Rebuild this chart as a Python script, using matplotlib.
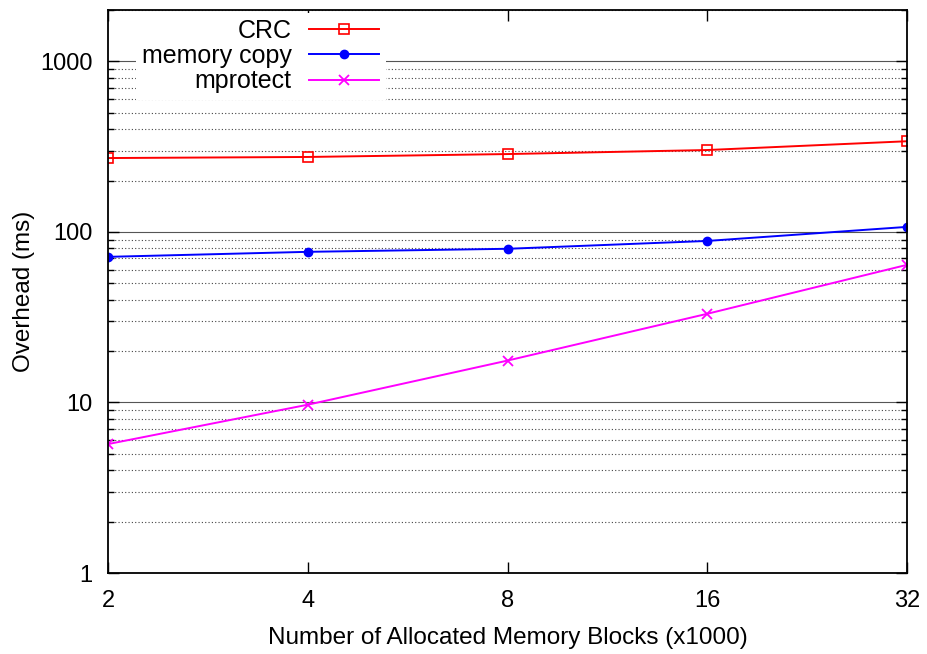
import numpy as np
import matplotlib
matplotlib.use('Agg')
import matplotlib.pyplot as plt
from matplotlib.ticker import FixedLocator, NullFormatter, LogLocator

plt.rcParams['font.family'] = ['Liberation Sans', 'DejaVu Sans']

# blocks allocated (x1000) and overhead in ms
blocks = [2, 4, 8, 16, 32]
crc = [271, 275, 286, 302, 340]
memcopy = [71.4, 76.4, 79.6, 88.5, 107]
mprotect = [5.7, 9.7, 17.6, 33.1, 64.1]

fig = plt.figure(figsize=(9.28, 6.54), dpi=100)
ax = fig.add_axes([108/928, 1-573/654, (907-108)/928, (573-10)/654])

ax.plot(blocks, crc, color='red', lw=1.4, marker='s', ms=7, mfc='none', mew=1.2, label='CRC')
ax.plot(blocks, memcopy, color='blue', lw=1.4, marker='o', ms=6, label='memory copy')
ax.plot(blocks, mprotect, color='magenta', lw=1.4, marker='x', ms=7, mew=1.3, label='mprotect')

ax.set_xscale('log', base=2)
ax.set_yscale('log')
ax.set_xlim(2, 32)
ax.set_ylim(1, 2000)
ax.set_xticks(blocks)
ax.set_xticklabels([str(b) for b in blocks])
ax.xaxis.set_minor_locator(FixedLocator([]))
ax.yaxis.set_major_locator(FixedLocator([1, 10, 100, 1000]))
ax.set_yticklabels(['1', '10', '100', '1000'])
ax.yaxis.set_minor_locator(LogLocator(base=10, subs=range(2, 10)))
ax.yaxis.set_minor_formatter(NullFormatter())

ax.grid(True, which='major', axis='y', color='#555555', lw=0.8, ls='-')
ax.grid(True, which='minor', axis='y', color='#444444', lw=0.8, ls=(0, (1, 2)))
ax.set_axisbelow(True)

ax.tick_params(which='both', direction='in', top=True, right=True, labelsize=17)
ax.tick_params(axis='y', which='major', length=8, width=1, pad=11)
ax.tick_params(axis='x', which='major', length=8, width=1, pad=12)
ax.tick_params(which='minor', length=4, width=1)
for s in ax.spines.values():
    s.set_linewidth(1.3)

ax.set_xlabel('Number of Allocated Memory Blocks (x1000)', fontsize=17.5, labelpad=11)
ax.set_ylabel('Overhead (ms)', fontsize=17.5, labelpad=4)

leg = ax.legend(loc='upper right', bbox_to_anchor=((388-108)/799, 1.0), markerfirst=False,
                fontsize=18, frameon=True, fancybox=False, edgecolor='none',
                framealpha=1, handlelength=2.8, labelspacing=0.05, borderpad=0.25,
                handletextpad=0.7, borderaxespad=0.1)
for t in leg.get_texts():
    t.set_ha('right')
leg._legend_box.align = 'right'

fig.savefig('out.png', dpi=100)
